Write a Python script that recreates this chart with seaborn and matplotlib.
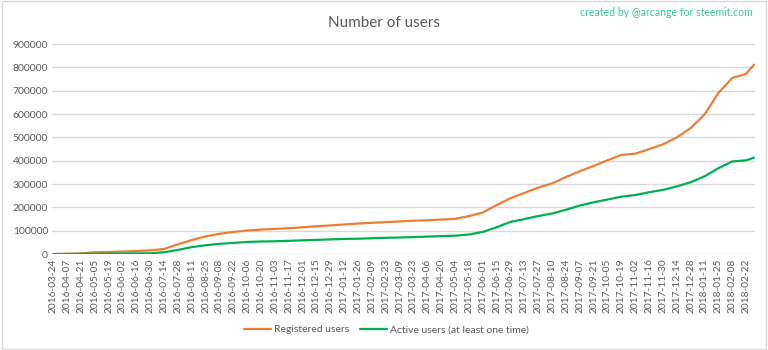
import numpy as np
import pandas as pd
import matplotlib
matplotlib.use("Agg")
import matplotlib.pyplot as plt
import matplotlib.dates as mdates
from matplotlib.patches import Rectangle
from matplotlib.lines import Line2D
import seaborn as sns

# ---- data ----
tick_dates = pd.date_range("2016-03-24", "2018-02-22", freq="14D")
dates = list(tick_dates) + [pd.Timestamp("2018-03-02")]

registered = [0, 1500, 3000, 8000, 9000, 11000, 13000, 16000, 22000, 42000,
              60000, 76000, 87000, 95000, 101000, 105000, 108000, 111000, 115000, 119000,
              123000, 127000, 131000, 134000, 137000, 140000, 143000, 145000, 148000, 151000,
              163000, 178000, 210000, 240000, 262000, 285000, 303000, 330000, 355000, 378000,
              402000, 425000, 430000, 450000, 470000, 500000, 540000, 598000, 690000, 755000,
              772000, 812000]
active = [0, 500, 1000, 1500, 2000, 2500, 3000, 3500, 8000, 18000,
          30000, 38000, 44000, 48000, 52000, 54000, 55000, 57000, 59000, 61000,
          63000, 65000, 66000, 68000, 70000, 71000, 73000, 75000, 77000, 79000,
          84000, 95000, 115000, 138000, 150000, 163000, 174000, 190000, 208000, 222000,
          234000, 246000, 253000, 265000, 275000, 290000, 308000, 333000, 368000, 397000,
          402000, 413000]
series_names = ["Registered users", "Active users (at least one time)"]
y_ticks = list(range(0, 900001, 100000))

df = pd.concat([
    pd.DataFrame({"date": dates, "users": registered, "series": series_names[0]}),
    pd.DataFrame({"date": dates, "users": active, "series": series_names[1]}),
])

sns.set_theme(style="white")
plt.rcParams["font.family"] = ["Lato", "DejaVu Sans"]

fig = plt.figure(figsize=(7.68, 3.5), dpi=100)
ax = fig.add_axes([0.068, 0.274, 0.915, 0.600])

sns.lineplot(data=df, x="date", y="users", hue="series",
             palette={series_names[0]: "#ED7D31", series_names[1]: "#00B050"},
             linewidth=1.6, ax=ax, legend=False)

ax.set_ylim(0, 900000)
ax.set_yticks(y_ticks)
ax.set_yticklabels([str(v) for v in y_ticks], fontsize=7.5, color="#595959")
ax.set_xlim(pd.Timestamp("2016-03-23"), pd.Timestamp("2018-03-03"))
ax.set_xticks(tick_dates)
ax.set_xticklabels([d.strftime("%Y-%m-%d") for d in tick_dates], rotation=90,
                   fontsize=7.3, color="#595959")
ax.tick_params(axis="both", length=0, pad=3)
ax.set_xlabel("")
ax.set_ylabel("")
ax.grid(axis="y", color="#d9d9d9", linewidth=1)
ax.set_axisbelow(True)
for s in ax.spines.values():
    s.set_visible(False)

fig.text(0.5, 0.935, "Number of users", ha="center", va="center",
         fontsize=11, color="#595959")
fig.text(0.98, 0.963, "created by @arcange for steemit.com", ha="right", va="center",
         fontsize=7.6, color="#33CC99")

handles = [Line2D([], [], color="#ED7D31", lw=1.6),
           Line2D([], [], color="#00B050", lw=1.6)]
fig.legend(handles, series_names, loc="center", bbox_to_anchor=(0.503, 0.058),
           ncol=2, frameon=False, fontsize=7.5, handlelength=2.6,
           columnspacing=1.0, handletextpad=0.3, labelcolor="#595959")

fig.patches.append(Rectangle((0.002, 0.003), 0.996, 0.994, transform=fig.transFigure,
                             fill=False, edgecolor="#d9d9d9", linewidth=1))

fig.savefig("out.png", dpi=100, facecolor="white")
